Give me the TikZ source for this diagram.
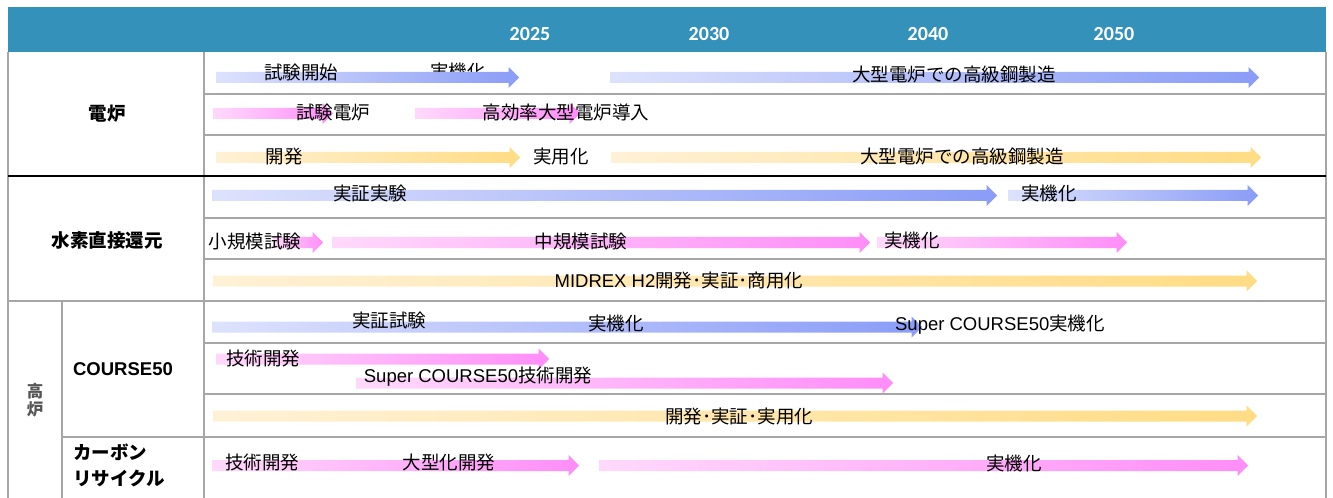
\documentclass[tikz,border=0pt]{standalone}
\usepackage{fontspec}
\setmainfont{Liberation Sans}
\newfontfamily\jp{Noto Sans CJK JP}
\newfontfamily\hdfont{Carlito}
\definecolor{hdr}{HTML}{3391BA}
\definecolor{grid}{HTML}{A6A6A6}
\definecolor{bL}{HTML}{DDE2FC}
\definecolor{bR}{HTML}{8A9CF7}
\definecolor{pL}{HTML}{FFD9FB}
\definecolor{pR}{HTML}{FF8DF8}
\definecolor{yL}{HTML}{FFF1D6}
\definecolor{yR}{HTML}{FFDC84}
\definecolor{kgray}{HTML}{555555}
\tikzset{
  bluearr/.style={left color=bL,right color=bR},
  pinkarr/.style={left color=pL,right color=pR},
  yelarr/.style={left color=yL,right color=yR},
  lbl/.style={inner sep=0pt,text height=0.88em,text depth=0.12em,yshift=-3bp,font=\fontsize{18.5bp}{21bp}\selectfont\jp},
  lbllat/.style={inner sep=0pt,text height=0.88em,text depth=0.12em,yshift=-3bp,font=\fontsize{18.5bp}{21bp}\selectfont},
  head/.style={inner sep=0pt,text=white,font=\fontsize{20bp}{22bp}\selectfont\hdfont\bfseries},
  cat/.style={inner sep=0pt,text height=0.88em,text depth=0.12em,yshift=-2bp,font=\fontsize{18.5bp}{21bp}\selectfont\jp\bfseries},
  gridline/.style={draw=grid,line width=1.6bp},
  majline/.style={draw=black,line width=2.4bp}
}
\newcommand\garr[4]{%
  \shade[#4] ({#1},{#3-5.5}) -- ({#2-10.5},{#3-5.5}) -- ({#2-10.5},{#3-10.5}) -- ({#2},{#3}) -- ({#2-10.5},{#3+10.5}) -- ({#2-10.5},{#3+5.5}) -- ({#1},{#3+5.5}) -- cycle;}
\begin{document}
\begin{tikzpicture}[x=1bp,y=-1bp]
\useasboundingbox (0,0) rectangle (1333,498);
% header
\fill[hdr] (8,7) rectangle (1326,52);
\node[head] (y25) at (530,34) {2025};
\node[head] (y30) at (709,34) {2030};
\node[head] (y40) at (928,34) {2040};
\node[head] (y50) at (1114,34) {2050};
% grid
\draw[gridline] (8,52) -- (8,498);
\draw[gridline] (204,52) -- (204,498);
\draw[gridline] (1326,52) -- (1326,498);
\draw[gridline] (62,301) -- (62,498);
\draw[gridline] (204,94) -- (1326,94);
\draw[gridline] (204,135) -- (1326,135);
\draw[gridline] (204,218) -- (1326,218);
\draw[gridline] (204,259) -- (1326,259);
\draw[gridline] (8,301) -- (1326,301);
\draw[gridline] (204,343) -- (1326,343);
\draw[gridline] (204,394) -- (1326,394);
\draw[gridline] (62,437) -- (1326,437);
\draw[majline] (8,176) -- (1326,176);
% category labels
\node[cat] (c1) at (107,115) {電炉};
\node[cat] (c2) at (107,242) {水素直接還元};
\node[inner sep=0pt,text=kgray,font=\fontsize{16.5bp}{19bp}\selectfont\jp\bfseries,align=center] (c3) at (35,400) {高\\[-1bp]炉};
\node[cat,font=\fontsize{18.5bp}{21bp}\selectfont\bfseries] (c4) at (123,370) {COURSE50};
\node[cat,anchor=west] (c5a) at (73,454) {カーボン};
\node[cat,anchor=west] (c5b) at (73,480) {リサイクル};
% row 1
\node[lbl] (r1b) at (458,72) {実機化};
\garr{216}{519}{77.5}{bluearr}
\garr{610}{1259}{77.5}{bluearr}
\node[lbl] (r1a) at (301,73) {試験開始};
\node[lbl] (r1c) at (954,75) {大型電炉での高級鋼製造};
% row 2
\garr{213}{333}{113.5}{pinkarr}
\garr{415}{580}{113.5}{pinkarr}
\node[lbl] (r2a) at (333,113) {試験電炉};
\node[lbl] (r2b) at (566,113) {高効率大型電炉導入};
% row 3
\garr{216}{520}{157.5}{yelarr}
\garr{611}{1261}{157.5}{yelarr}
\node[lbl] (r3a) at (284,157) {開発};
\node[lbl] (r3b) at (561,157) {実用化};
\node[lbl] (r3c) at (962,157) {大型電炉での高級鋼製造};
% row 4
\garr{212}{997}{195.5}{bluearr}
\garr{1008}{1258}{195.5}{bluearr}
\node[lbl] (r4a) at (370,194) {実証実験};
\node[lbl] (r4b) at (1049,194) {実機化};
% row 5
\garr{273}{323}{242.5}{pinkarr}
\garr{332}{870}{242.5}{pinkarr}
\garr{877}{1127}{242.5}{pinkarr}
\node[lbl] (r5a) at (255,242) {小規模試験};
\node[lbl] (r5b) at (581,242) {中規模試験};
\node[lbl] (r5c) at (912,241) {実機化};
% row 6
\garr{213}{1257}{281}{yelarr}
\node[lbllat] (r6a) at (679,281) {MIDREX H2{\jp 開発･実証･商用化}};
% row 7
\garr{212}{922}{327}{bluearr}
\node[lbl] (r7a) at (389,321) {実証試験};
\node[lbl] (r7b) at (616,324) {実機化};
\node[lbllat] (r7c) at (1000,324) {Super COURSE50{\jp 実機化}};
% row 8
\garr{216}{549}{359}{pinkarr}
\garr{356}{893}{383}{pinkarr}
\node[lbl] (r8a) at (263,359) {技術開発};
\node[lbllat] (r8b) at (478,376) {Super COURSE50{\jp 技術開発}};
% row 9
\garr{213}{1257}{416}{yelarr}
\node[lbl] (r9a) at (739,417) {開発･実証･実用化};
% row 10
\garr{212}{579}{465.5}{pinkarr}
\garr{599}{1248}{465.5}{pinkarr}
\node[lbl] (r10a) at (262,463) {技術開発};
\node[lbl] (r10b) at (449,463) {大型化開発};
\node[lbl] (r10c) at (1014,464) {実機化};
\end{tikzpicture}
\end{document}
